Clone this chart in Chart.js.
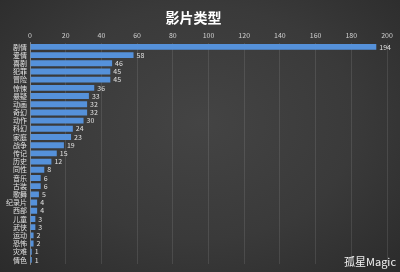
<!DOCTYPE html>
<html>
<head>
<meta charset="utf-8">
<script src="https://cdn.jsdelivr.net/npm/chart.js@4"></script>
<style>
    html, body { margin: 0; padding: 0; }
    body {
        width: 400px; height: 272px; overflow: hidden; position: relative;
        background: radial-gradient(ellipse at 50% 45%, #444444 0%, #3a3a3a 55%, #2b2b2b 100%);
    }
    #wrap { position: absolute; left: 0; top: 0; width: 400px; height: 272px; }
    #mark {
        position: absolute; right: 4px; bottom: 3px;
        font-family: 'Noto Sans CJK SC', sans-serif; font-size: 11px; color: #f2f2f2;
    }
</style>
</head>
<body>
<div id="wrap"><canvas id="genreChart"></canvas></div>
<div id="mark">孤星Magic</div>
<script>
// 影片类型 counts
const genres = ['剧情', '爱情', '喜剧', '犯罪', '冒险', '惊悚', '悬疑', '动画', '奇幻', '动作',
    '科幻', '家庭', '战争', '传记', '历史', '同性', '音乐', '古装', '歌舞', '纪录片',
    '西部', '儿童', '武侠', '运动', '恐怖', '灾难', '情色'];
const counts = [194, 58, 46, 45, 45, 36, 33, 32, 32, 30,
    24, 23, 19, 15, 12, 8, 6, 6, 5, 4,
    4, 3, 3, 2, 2, 1, 1];
const xTicks = [0, 20, 40, 60, 80, 100, 120, 140, 160, 180, 200];

const fontFamily = "'Noto Sans CJK SC', sans-serif";

// value labels at the end of each bar
const barLabels = {
    id: 'barLabels',
    afterDatasetsDraw(chart) {
        const ctx = chart.ctx;
        const meta = chart.getDatasetMeta(0);
        ctx.save();
        ctx.font = '7px ' + fontFamily;
        ctx.fillStyle = '#e0e0e0';
        ctx.textBaseline = 'middle';
        ctx.textAlign = 'left';
        meta.data.forEach(function (bar, i) {
            ctx.fillText(String(counts[i]), bar.x + 3, bar.y);
        });
        ctx.restore();
    }
};

function initGenreChart() {
    const ctx = document.getElementById('genreChart');
    try {
        new Chart(ctx, {
            type: 'bar',
            data: {
                labels: genres,
                datasets: [{
                    data: counts,
                    backgroundColor: '#5591da',
                    borderColor: '#6aa3e6',
                    borderWidth: 0,
                    categoryPercentage: 0.8,
                    barPercentage: 0.9
                }]
            },
            options: {
                indexAxis: 'y',
                responsive: true,
                maintainAspectRatio: false,
                animation: false,
                layout: { padding: { left: 0, right: 13, top: 0, bottom: 8 } },
                plugins: {
                    legend: { display: false },
                    tooltip: { enabled: false },
                    title: {
                        display: true,
                        text: '影片类型',
                        color: '#ffffff',
                        font: { size: 14, weight: 'bold', family: fontFamily },
                        padding: { top: 9, bottom: 4 }
                    }
                },
                scales: {
                    x: {
                        position: 'top',
                        min: 0,
                        max: 200,
                        afterBuildTicks: function (scale) {
                            scale.ticks = xTicks.map(function (v) { return { value: v }; });
                        },
                        afterFit: function (scale) { scale.height = 13; },
                        grid: { color: 'rgba(255, 255, 255, 0.10)', drawTicks: false },
                        border: { display: false },
                        ticks: {
                            color: '#d0d0d0',
                            padding: 3,
                            maxRotation: 0,
                            font: { size: 7, family: fontFamily }
                        }
                    },
                    y: {
                        afterFit: function (scale) { scale.width = 30; },
                        grid: { display: false, drawTicks: false },
                        border: { display: true, color: 'rgba(255, 255, 255, 0.35)' },
                        ticks: {
                            color: '#e0e0e0',
                            padding: 3,
                            autoSkip: false,
                            font: { size: 7, family: fontFamily }
                        }
                    }
                }
            },
            plugins: [barLabels]
        });
    } catch (error) {
        console.error('Failed to initialize genre chart:', error);
    }
}

initGenreChart();
</script>
</body>
</html>
